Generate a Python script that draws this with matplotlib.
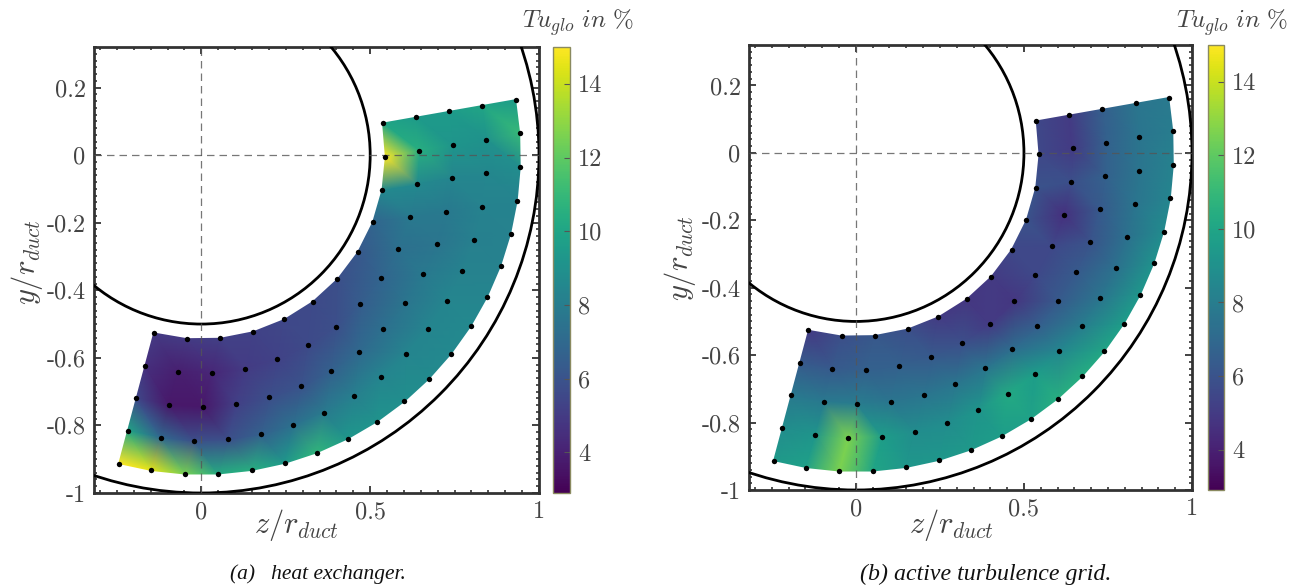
import numpy as np
import matplotlib
matplotlib.use('Agg')
import matplotlib.pyplot as plt
import matplotlib.tri as mtri
from matplotlib.ticker import MultipleLocator

plt.rcParams['font.family'] = ['cmr10', 'DejaVu Serif']
plt.rcParams['mathtext.fontset'] = 'cm'
plt.rcParams['axes.unicode_minus'] = False

W, H = 1298, 588
TXT = '#444444'
FRAME = '#333333'

# measurement rings, radius in r_duct
ring_r = [0.545, 0.645, 0.745, 0.845, 0.945]

# angle of each probe point in degrees, from the +z axis
ring_ang = [
    [-105, -94.5, -84.1, -73.6, -63.2, -52.7, -42.3, -31.8, -21.4, -10.9, -0.5, 10],
    [-105, -96.2, -87.3, -78.5, -69.6, -60.8, -51.9, -43.1, -34.2, -25.4, -16.5, -7.7, 1.2, 10],
    [-105, -97.3, -89.7, -82, -74.3, -66.7, -59, -51.3, -43.7, -36, -28.3, -20.7, -13, -5.3, 2.3, 10],
    [-105, -98.2, -91.5, -84.7, -78, -71.2, -64.5, -57.7, -50.9, -44.2, -37.4, -30.7, -23.9, -17.2, -10.4, -3.6, 3.1, 10],
    [-105, -99, -93, -87, -80.9, -74.8, -68.8, -62.7, -56.6, -50.5, -44.5, -38.5, -32.4, -26.4, -20.3, -14.3, -8.2, -2.2, 3.9, 10],
]

# Tu_glo at the probe points, heat exchanger
tu_a = [
    [5, 5, 5.2, 5.3, 5.5, 5.6, 5.8, 6.2, 6.8, 8.6, 15, 10],
    [4.6, 3.9, 4.2, 5, 5.3, 5.6, 5.8, 6.4, 6.8, 7.3, 7.8, 8.6, 10.5, 9.5],
    [5.5, 3.7, 3.7, 5.2, 5.8, 6, 6.6, 7, 7.3, 7.6, 7.8, 7.6, 7.8, 8.4, 9.2, 9.5],
    [10, 7, 5.8, 5.8, 6.6, 7.4, 7.9, 8.1, 8.4, 8.4, 8.4, 8.4, 8.2, 8.1, 8.2, 8.5, 9, 10],
    [15, 14.5, 12.5, 10.3, 10.5, 9.4, 10.8, 9.3, 9.1, 8.9, 8.7, 8.6, 8.6, 8.4, 8.2, 8.2, 8.3, 8.8, 11, 9.5],
]

# Tu_glo at the probe points, active turbulence grid
tu_b = [
    [5, 5.8, 6.2, 5.8, 5, 4.8, 5, 5.5, 6, 6, 5.5, 5.5],
    [6.3, 6.3, 6.6, 6.6, 6.3, 5.8, 5, 4.8, 5.5, 5.5, 4.6, 5.8, 5, 5],
    [7.8, 7.8, 8, 7.6, 7.6, 7.6, 7.6, 7.2, 6.5, 6.3, 6.3, 6, 6.3, 6.6, 6.6, 6.5],
    [8.8, 9.2, 12.6, 9.6, 8.8, 8.8, 9.2, 10.2, 9.6, 8.5, 8, 7.6, 7.4, 7.4, 7.6, 7.6, 7.6, 7.6],
    [9.4, 9.8, 12.6, 10, 9.3, 9.3, 9.4, 9.6, 9.8, 10.5, 10.4, 10, 9.6, 9.3, 9, 8.7, 8.4, 8.2, 8, 7.8],
]

y_ticks = [-1, -0.8, -0.6, -0.4, -0.2, 0, 0.2]
y_labels = ['-1', '-0.8', '-0.6', '-0.4', '-0.2', '0', '0.2']
x_ticks = [0, 0.5, 1]
x_labels = ['0', '0.5', '1']
cb_ticks = [4, 6, 8, 10, 12, 14]
clim = (2.9, 15)


def px_axes(fig, x0, x1, y0, y1):
    return fig.add_axes([x0 / W, 1 - y1 / H, (x1 - x0) / W, (y1 - y0) / H])


def panel(fig, values, box, cbox, title_x, xlab_x, ylab_x, ylab_y, caption, caption_x, caption_size):
    ax = px_axes(fig, *box)

    r = np.concatenate([[ring_r[i]] * len(ring_ang[i]) for i in range(len(ring_r))])
    ang = np.radians(np.concatenate(ring_ang))
    z = r * np.cos(ang)
    y = r * np.sin(ang)
    vals = np.concatenate(values)

    tri = mtri.Triangulation(z, y)
    inner = len(ring_ang[0])
    tri.set_mask(np.all(tri.triangles < inner, axis=1))
    pc = ax.tripcolor(tri, vals, shading='gouraud', cmap='viridis', vmin=clim[0], vmax=clim[1])

    for rad in [0.5, 1.0]:
        ax.add_patch(plt.Circle((0, 0), rad, fill=False, color='black', lw=2, zorder=3))

    ax.axvline(0, color='#555555', lw=0.9, ls=(0, (6, 4)), alpha=0.8, zorder=4)
    ax.axhline(0, color='#555555', lw=0.9, ls=(0, (6, 4)), alpha=0.8, zorder=4)
    ax.scatter(z, y, s=15, color='black', zorder=5, linewidths=0)

    ax.set_xlim(-0.318, 1)
    ax.set_ylim(-1, 0.32)
    ax.set_xticks(x_ticks)
    ax.set_xticklabels(x_labels)
    ax.set_yticks(y_ticks)
    ax.set_yticklabels(y_labels)
    ax.xaxis.set_minor_locator(MultipleLocator(0.05))
    ax.yaxis.set_minor_locator(MultipleLocator(0.02))
    ax.tick_params(which='major', direction='in', top=True, right=True, length=5, width=1.3,
                   labelsize=17.5, labelcolor=TXT, color=FRAME, pad=6)
    ax.tick_params(which='minor', direction='in', top=True, right=True, length=2.5, width=1.2, color=FRAME)
    for s in ax.spines.values():
        s.set_linewidth(2)
        s.set_color(FRAME)

    fig.text(xlab_x / W, 1 - 525 / H, r'$z/r_{duct}$', fontsize=22, color=TXT, ha='center', va='center')
    fig.text(ylab_x / W, 1 - ylab_y / H, r'$y/r_{duct}$', fontsize=22, color=TXT, rotation=90,
             ha='center', va='center')

    cax = px_axes(fig, *cbox)
    cb = fig.colorbar(pc, cax=cax)
    cb.set_ticks(cb_ticks)
    cb.set_ticklabels([str(t) for t in cb_ticks])
    cb.ax.tick_params(direction='in', length=4, width=0.8, labelsize=17.5, labelcolor=TXT,
                      color='#555555', pad=6)
    cb.ax.minorticks_off()
    cb.outline.set_edgecolor('#8a8a60')
    cb.outline.set_linewidth(1)

    fig.text(title_x / W, 1 - 23 / H, r'$Tu_{glo}\,\,in\,\,\%$', fontsize=18, color=TXT,
             ha='center', va='center')
    fig.text(caption_x / W, 1 - 574 / H, caption, fontsize=caption_size, style='italic',
             family='Liberation Serif', color='#111111', ha='center', va='center')


fig = plt.figure(figsize=(W / 100, H / 100), dpi=100)
panel(fig, tu_a, (94, 539, 47, 493), (553, 570, 47, 493), 578, 296, 27, 262,
      '(a)   heat exchanger.', 318, 15.5)
panel(fig, tu_b, (749, 1192, 45, 490), (1208, 1224, 45, 490), 1232, 951, 680, 258,
      '(b) active turbulence grid.', 986, 17.2)
fig.savefig('out.png', dpi=100)
